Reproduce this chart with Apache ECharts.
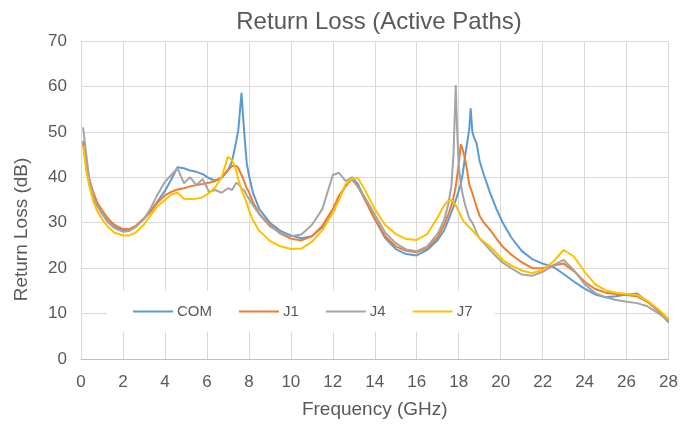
<!DOCTYPE html>
<html>
<head>
<meta charset="utf-8">
<script src="https://cdn.jsdelivr.net/npm/echarts@6/dist/echarts.min.js"></script>
<style>
    html, body { margin: 0; padding: 0; background: #fff; }
    #chart { width: 681px; height: 424px; }
</style>
</head>
<body>
<div id="chart"></div>
<script>
// frequency points (GHz), denser near the resonances
const freqs = [0.1, 0.25, 0.4, 0.6, 0.8, 1.0, 1.3, 1.6, 2.0, 2.3, 2.6, 3.0, 3.3, 3.6, 4.0, 4.3, 4.6, 4.9, 5.2, 5.5,
    5.8, 6.1, 6.4, 6.7, 7.0, 7.2, 7.4, 7.5, 7.6, 7.65, 7.7, 7.8, 7.9, 8.0, 8.2, 8.5, 9.0, 9.5, 10.0, 10.5,
    11.0, 11.5, 12.0, 12.3, 12.6, 12.9, 13.2, 13.5, 14.0, 14.5, 15.0, 15.5, 16.0, 16.5, 17.0, 17.3, 17.5, 17.65, 17.75, 17.8,
    17.86, 17.92, 18.0, 18.1, 18.2, 18.3, 18.4, 18.5, 18.57, 18.65, 18.75, 18.85, 19.0, 19.2, 19.5, 19.8, 20.1, 20.5, 21.0, 21.5,
    22.0, 22.5, 23.0, 23.5, 24.0, 24.5, 25.0, 25.5, 26.0, 26.5, 27.0, 27.5, 28.0];

const comVals = [48, 42.5, 38.5, 35.5, 33.5, 32, 30.2, 29, 28.3, 28.4, 29.2, 30.8, 32.5, 34.4, 37, 39.5, 42.2, 42, 41.5, 41.2,
    40.7, 39.8, 39.3, 39.8, 41.5, 43.5, 48, 50.5, 56, 58.6, 55, 48.5, 43, 40.5, 36.5, 33, 30, 28.2, 27.2, 26.6,
    27, 29, 32.3, 35.5, 38, 40, 38.5, 35.5, 30.8, 26.6, 24.2, 23.1, 22.8, 24, 26.2, 28.3, 30.5, 32.3, 33.5, 34.2,
    35, 35.8, 37, 38.5, 41, 44.5, 47.5, 50.5, 55.2, 50, 48.5, 47.5, 43.5, 40.5, 36.5, 33, 30, 26.8, 23.8, 22,
    21, 20.3, 18.7, 17, 15.5, 14.2, 13.6, 13.8, 14.2, 14.4, 12.6, 10.6, 8.1];

const j1Vals = [47.5, 43, 39.5, 36.5, 34.2, 32.8, 30.8, 29.5, 28.6, 28.6, 29.3, 31, 32.3, 34.2, 36, 36.8, 37.3, 37.6, 38, 38.3,
    38.5, 38.8, 39.2, 40, 41.6, 42.5, 42.5, 42, 41, 40.5, 40, 38.8, 37.5, 36.8, 34.5, 32, 29.5, 27.6, 26.5, 26.1,
    27, 29.3, 33, 36, 38, 39.5, 38, 35.3, 30.8, 27, 24.8, 23.8, 23.5, 24.4, 26.8, 29.5, 31.8, 33.8, 35.5, 36.6,
    38, 40, 43, 47.3, 46, 44, 41.5, 38.5, 37.5, 36.5, 35, 33.5, 31.5, 30, 28.4, 26.5, 24.7, 23, 21.3, 20,
    20, 20.6, 21, 19.3, 17, 15.4, 14.6, 14.3, 14.1, 13.8, 12.6, 10.8, 8.5];

const j4Vals = [51, 45, 39.5, 35.5, 33.5, 32, 30, 28.8, 28, 28.2, 29, 30.8, 33, 35.8, 39, 40.5, 42, 38.7, 40, 38.3,
    39.6, 36.8, 37.2, 36.6, 37.6, 37.2, 38.8, 38.5, 38, 37.5, 37.4, 37, 36, 35.3, 33.8, 31.8, 29.2, 27.8, 27, 27.4,
    29.5, 33, 40.5, 41, 39.2, 39.8, 37.8, 35.8, 31.8, 27.8, 25.5, 24.1, 23.7, 24.8, 27.6, 30.5, 34, 38, 45, 52,
    60.3, 51, 42.5, 38.5, 36, 34, 32.5, 31, 30.5, 30, 29, 27.8, 26.5, 25.5, 24, 22.5, 21.2, 20, 18.6, 18.3,
    19.2, 20.6, 21.8, 19.5, 16.5, 14.5, 13.6, 13, 12.6, 12.3, 11.6, 10.1, 8.5];

const j7Vals = [47, 41.5, 38, 34.5, 32.3, 30.8, 29, 27.8, 27.2, 27.2, 27.8, 29.6, 31.5, 33.5, 35, 36.2, 36.6, 35.3, 35.2, 35.3,
    35.6, 36.5, 37.8, 40, 44.5, 43.8, 41.5, 39.5, 38, 37.2, 36.6, 35.5, 34.3, 32.8, 30.5, 28.2, 26, 24.8, 24.2, 24.3,
    25.8, 28.3, 32.2, 35, 38.5, 39.6, 39.8, 37.5, 33, 29.5, 27.5, 26.4, 26.2, 27.5, 31.2, 33.8, 34.8, 35, 34.5, 34.2,
    33.8, 33.3, 32.5, 31.5, 30.5, 30, 29.5, 29, 28.8, 28.3, 27.8, 27.3, 26.6, 25.8, 24.7, 23.3, 21.8, 20.6, 19.5, 18.9,
    19.6, 21.4, 24, 22.5, 19.2, 16.5, 15.1, 14.6, 14.3, 14.1, 12.8, 11, 8.8];

const seriesNames = ['COM', 'J1', 'J4', 'J7'];
const seriesColors = ['#5B9BD5', '#ED7D31', '#A5A5A5', '#FFC000'];
const seriesVals = [comVals, j1Vals, j4Vals, j7Vals];

const xTicks = { min: 0, max: 28, interval: 2 };
const yTicks = { min: 0, max: 70, interval: 10 };

let chart = echarts.init(document.getElementById('chart'));

const textColor = '#595959';
const gridColor = '#D9D9D9';

let option = {
    animation: false,
    backgroundColor: '#fff',
    textStyle: { fontFamily: 'Liberation Sans, Arial, sans-serif' },
    title: {
        text: 'Return Loss (Active Paths)',
        left: 374,
        top: 5,
        textAlign: 'center',
        textStyle: {
            color: textColor,
            fontSize: 24,
            fontWeight: 'normal'
        }
    },
    grid: {
        left: 81,
        right: 12,
        top: 41,
        bottom: 65
    },
    legend: {
        data: seriesNames,
        left: 107,
        top: 291,
        padding: [13, 22, 13, 26],
        backgroundColor: '#fff',
        icon: 'rect',
        itemWidth: 40,
        itemHeight: 2,
        itemGap: 27,
        textStyle: {
            color: textColor,
            fontSize: 15,
            padding: [0, 0, 0, -1]
        }
    },
    xAxis: {
        type: 'value',
        min: xTicks.min,
        max: xTicks.max,
        interval: xTicks.interval,
        name: 'Frequency (GHz)',
        nameLocation: 'middle',
        nameGap: 41,
        nameTextStyle: { color: textColor, fontSize: 19 },
        axisLine: { show: true, lineStyle: { color: '#BFBFBF', width: 1 } },
        axisTick: { show: false },
        axisLabel: { color: textColor, fontSize: 17, margin: 15 },
        splitLine: { show: true, lineStyle: { color: gridColor, width: 1 } }
    },
    yAxis: {
        type: 'value',
        min: yTicks.min,
        max: yTicks.max,
        interval: yTicks.interval,
        name: 'Return Loss (dB)',
        nameLocation: 'middle',
        nameGap: 50,
        nameTextStyle: { color: textColor, fontSize: 19, padding: [0, 59, 0, 0] },
        axisLine: { show: true, lineStyle: { color: gridColor, width: 1 } },
        axisTick: { show: false },
        axisLabel: { color: textColor, fontSize: 17, margin: 14 },
        splitLine: { show: true, lineStyle: { color: gridColor, width: 1 } }
    },
    series: seriesNames.map((name, i) => ({
        name: name,
        type: 'line',
        showSymbol: false,
        symbol: 'none',
        smooth: false,
        color: seriesColors[i],
        lineStyle: { width: 2, color: seriesColors[i] },
        data: freqs.map((f, k) => [f, seriesVals[i][k]])
    }))
};

chart.setOption(option);
</script>
</body>
</html>
